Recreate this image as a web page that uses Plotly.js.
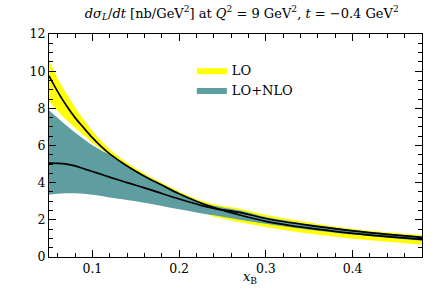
<!DOCTYPE html>
<html>
<head>
<meta charset="utf-8">
<script src="https://cdn.plot.ly/plotly-3.0.1.min.js"></script>
<style>html,body{margin:0;padding:0;background:#fff;}#chart{width:442px;height:290px;}</style>
</head>
<body>
<div id="chart"></div>
<script>
// x_B grid
var xB = [0.05,0.06,0.07,0.08,0.09,0.10,0.11,0.12,0.14,0.16,0.18,0.20,0.22,0.24,0.27,0.30,0.35,0.40,0.44,0.48];
// LO: central, upper, lower
var loCentral = [9.75,8.9,8.15,7.5,6.95,6.42,5.95,5.55,4.9,4.35,3.87,3.4,3.0,2.66,2.26,1.92,1.55,1.27,1.1,0.95];
var loUpper   = [10.6,9.6,8.8,8.05,7.4,6.8,6.25,5.8,5.07,4.5,4.0,3.52,3.12,2.84,2.6,2.27,1.86,1.52,1.33,1.18];
var loLower   = [8.38,7.85,7.38,6.95,6.55,6.15,5.78,5.42,4.6,4.0,3.45,2.95,2.52,2.18,1.87,1.62,1.26,0.98,0.82,0.67];
// LO+NLO: central, upper, lower
var nloCentral = [5.05,5.04,5.0,4.9,4.75,4.6,4.45,4.3,4.0,3.72,3.42,3.12,2.85,2.62,2.4,2.07,1.7,1.41,1.22,1.06];
var nloUpper   = [7.9,7.48,7.08,6.7,6.35,6.02,5.75,5.5,4.92,4.38,3.9,3.42,3.03,2.76,2.5,2.15,1.76,1.46,1.27,1.11];
var nloLower   = [3.35,3.4,3.43,3.43,3.4,3.35,3.28,3.2,3.07,2.92,2.75,2.57,2.4,2.24,2.0,1.79,1.47,1.21,1.04,0.88];

var FONT = 'DejaVu Serif';
var YEL = '#ffff00', TEAL = '#5f9ea0';

var traces = [
  {x:xB, y:loLower, mode:'lines', line:{width:0, shape:'spline', color:YEL}, showlegend:false, hoverinfo:'skip'},
  {x:xB, y:loUpper, mode:'lines', fill:'tonexty', fillcolor:YEL, line:{width:0, shape:'spline', color:YEL}, name:'LO'},
  {x:xB, y:nloLower, mode:'lines', line:{width:0, shape:'spline', color:TEAL}, showlegend:false, hoverinfo:'skip'},
  {x:xB, y:nloUpper, mode:'lines', fill:'tonexty', fillcolor:TEAL, line:{width:0, shape:'spline', color:TEAL}, name:'LO+NLO'},
  {x:xB, y:loCentral, mode:'lines', line:{width:1.7, shape:'spline', color:'#000'}, showlegend:false},
  {x:xB, y:nloCentral, mode:'lines', line:{width:1.7, shape:'spline', color:'#000'}, showlegend:false}
];

var layout = {
  width:442, height:290,
  margin:{l:49, r:20, t:34, b:33},
  paper_bgcolor:'#fff', plot_bgcolor:'#fff',
  font:{family:FONT, size:13, color:'#000'},
  title:{text:'<i>dσ</i><sub><i>L</i></sub>/<i>dt</i> [nb/GeV<sup>2</sup>] at <i>Q</i><sup>2</sup> = 9 GeV<sup>2</sup>, <i>t</i> = −0.4 GeV<sup>2</sup>',
         font:{family:FONT, size:13}, x:0.547, xanchor:'center', y:0.955, yanchor:'middle'},
  showlegend:true,
  legend:{x:0.383, y:0.905, xanchor:'left', yanchor:'top', traceorder:'normal', bgcolor:'rgba(0,0,0,0)', font:{family:FONT, size:13}, tracegroupgap:0, itemwidth:30},
  annotations:[{text:'<i>x</i><sub>B</sub>', xref:'paper', yref:'paper', x:0.54, y:-0.09, xanchor:'center', yanchor:'middle', showarrow:false, font:{family:FONT, size:13}}],
  xaxis:{range:[0.05,0.48], tick0:0, dtick:0.1, ticks:'inside', ticklen:7, tickwidth:1, tickcolor:'#000',
         showline:true, linecolor:'#000', linewidth:1, mirror:'ticks', showgrid:false, zeroline:false,
         minor:{dtick:0.02, tick0:0, ticks:'inside', ticklen:4, tickwidth:1, tickcolor:'#000', showgrid:false},
         automargin:false,
         tickfont:{family:FONT, size:12.5}},
  yaxis:{range:[0,12], tick0:0, dtick:2, ticks:'inside', ticklen:7, tickwidth:1, tickcolor:'#000',
         showline:true, linecolor:'#000', linewidth:1, mirror:'ticks', showgrid:false, zeroline:false,
         minor:{dtick:0.5, tick0:0, ticks:'inside', ticklen:4, tickwidth:1, tickcolor:'#000', showgrid:false},
         automargin:false,
         tickfont:{family:FONT, size:12.5}}
};

Plotly.newPlot('chart', traces, layout, {staticPlot:true, displayModeBar:false});
</script>
</body>
</html>
